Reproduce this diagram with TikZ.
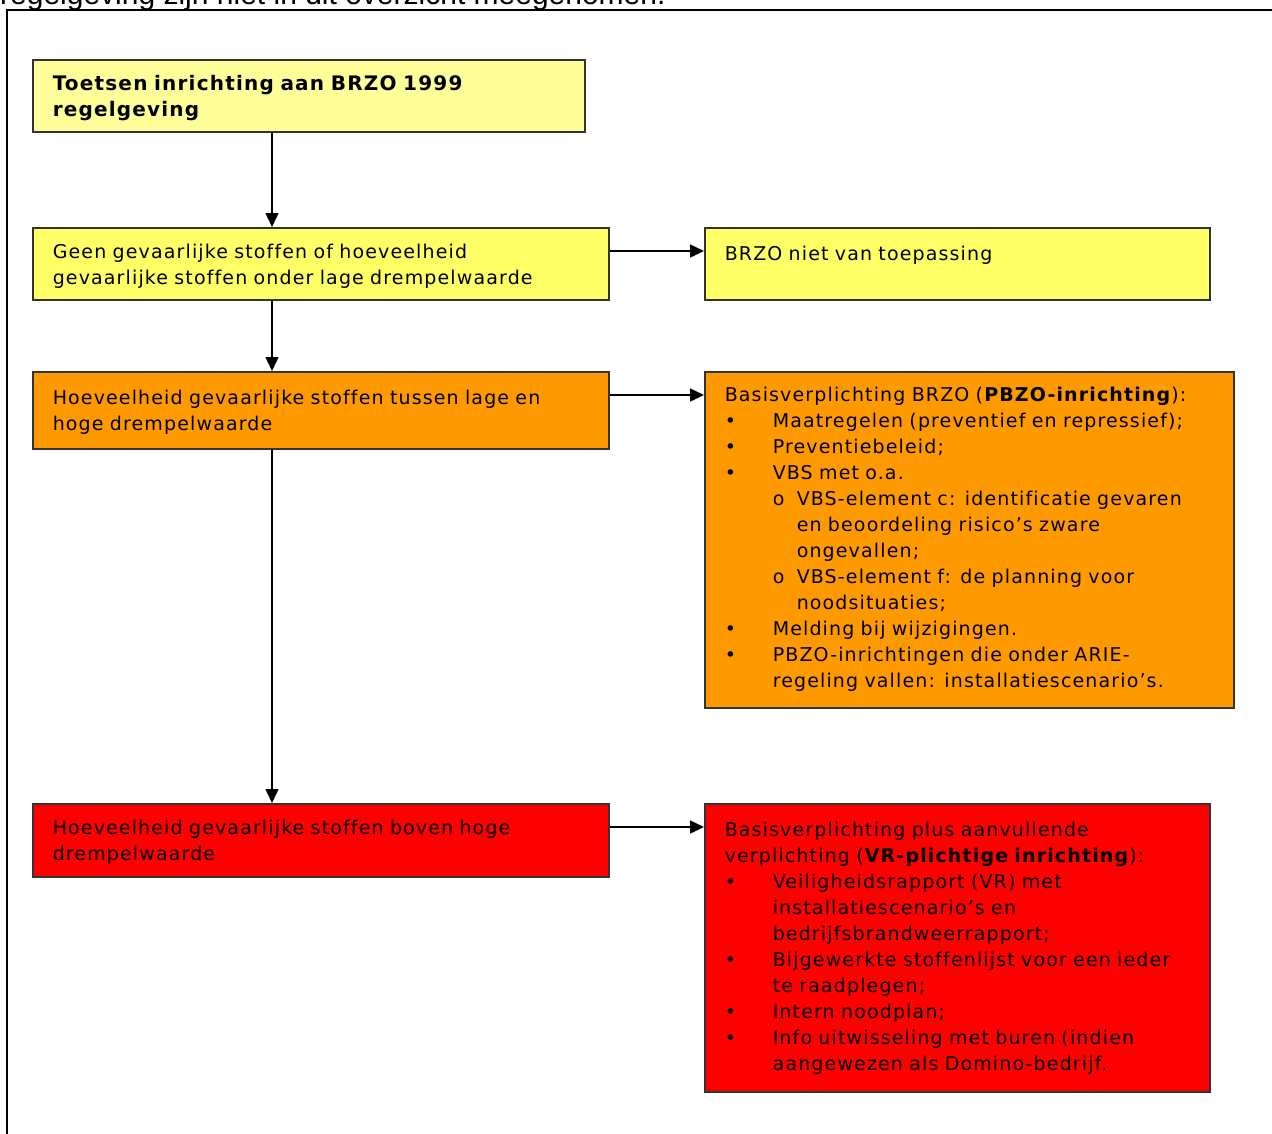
\documentclass[tikz,border=0pt]{standalone}
\usepackage{fontspec}
\setmainfont{DejaVu Sans}[LetterSpace=6,Ligatures=NoCommon]
\newfontfamily\arialfont{Liberation Sans}
\usetikzlibrary{arrows.meta}
\definecolor{paleyellow}{HTML}{FFFF99}
\definecolor{lightyellow}{HTML}{FFFF66}
\definecolor{brzoorange}{HTML}{FF9900}
\definecolor{brzored}{HTML}{FF0000}
\newcommand{\bitem}[1]{\par\hangindent=48pt\hangafter=1\noindent\makebox[48pt][l]{•}#1\par}
\newcommand{\sitem}[1]{\par\hangindent=72pt\hangafter=1\noindent\hspace*{48pt}\makebox[24pt][l]{o}#1\par}
\begin{document}
\begin{tikzpicture}[x=1pt,y=-1pt,
    blok/.style={draw=black!80, line width=1.5pt, anchor=north west, inner xsep=20pt, inner ysep=0pt,
        align=left, font=\fontsize{19}{26}\selectfont},
    flow/.style={line width=1.5pt, -{Triangle[length=14pt,width=13pt]}}]
    \useasboundingbox (0,0) rectangle (1272,1133);
    \clip (0,0) rectangle (1272,1133);
    \node [anchor=base west, inner sep=0pt, font=\arialfont\fontsize{30}{30}\selectfont] (intro) at (0,4)
        {regelgeving zijn niet in dit overzicht meegenomen.};
    \draw [line width=2pt] (7,1160) -- (7,10) -- (1290,10);
    \node [blok, fill=paleyellow, text width=512pt, minimum height=72pt, font=\fontsize{20}{26}\selectfont] (toets) at (32,59)
        {\rule{0pt}{19pt}\textbf{Toetsen inrichting aan BRZO 1999}\\\textbf{regelgeving}};
    \node [blok, fill=lightyellow, text width=536pt, minimum height=72pt] (geen) at (32,227)
        {\rule{0pt}{19pt}Geen gevaarlijke stoffen of hoeveelheid\\gevaarlijke stoffen onder lage drempelwaarde};
    \node [blok, fill=lightyellow, text width=465pt, minimum height=72pt] (nvt) at (704,227)
        {\rule{0pt}{19pt}BRZO niet van toepassing\\\mbox{}};
    \node [blok, fill=brzoorange, text width=536pt, minimum height=77pt] (tussen) at (32,371)
        {\rule{0pt}{19pt}Hoeveelheid gevaarlijke stoffen tussen lage en\\hoge drempelwaarde};
    \node [blok, fill=brzoorange, text width=489pt, minimum height=336pt] (pbzo) at (704,371)
        {Basisverplichting BRZO (\textbf{PBZO-inrichting}):
        \bitem{Maatregelen (preventief en repressief);}
        \bitem{Preventiebeleid;}
        \bitem{VBS met o.a.}
        \sitem{VBS-element c: identificatie gevaren\newline en beoordeling risico’s zware\newline ongevallen;}
        \sitem{VBS-element f: de planning voor\newline noodsituaties;}
        \bitem{Melding bij wijzigingen.}
        \bitem{PBZO-inrichtingen die onder ARIE-\newline regeling vallen: installatiescenario’s.}};
    \node [blok, fill=brzored, text width=536pt, minimum height=73pt] (boven) at (32,803)
        {\rule{0pt}{19pt}Hoeveelheid gevaarlijke stoffen boven hoge\\drempelwaarde};
    \node [blok, fill=brzored, text width=465pt, minimum height=288pt] (vr) at (704,803)
        {Basisverplichting plus aanvullende\newline verplichting (\textbf{VR-plichtige inrichting}):
        \bitem{Veiligheidsrapport (VR) met\newline installatiescenario’s en\newline bedrijfsbrandweerrapport;}
        \bitem{Bijgewerkte stoffenlijst voor een ieder\newline te raadplegen;}
        \bitem{Intern noodplan;}
        \bitem{Info uitwisseling met buren (indien\newline aangewezen als Domino-bedrijf.}};
    \coordinate (spine) at (272,0);
    \draw [flow] (toets.south -| spine) -- (geen.north -| spine);
    \draw [flow] (geen.south -| spine) -- (tussen.north -| spine);
    \draw [flow] (tussen.south -| spine) -- (boven.north -| spine);
    \draw [flow] ([yshift=-24pt]geen.north east) -- ([yshift=-24pt]nvt.north west);
    \draw [flow] ([yshift=-24pt]tussen.north east) -- ([yshift=-24pt]pbzo.north west);
    \draw [flow] ([yshift=-24pt]boven.north east) -- ([yshift=-24pt]vr.north west);
\end{tikzpicture}
\end{document}
